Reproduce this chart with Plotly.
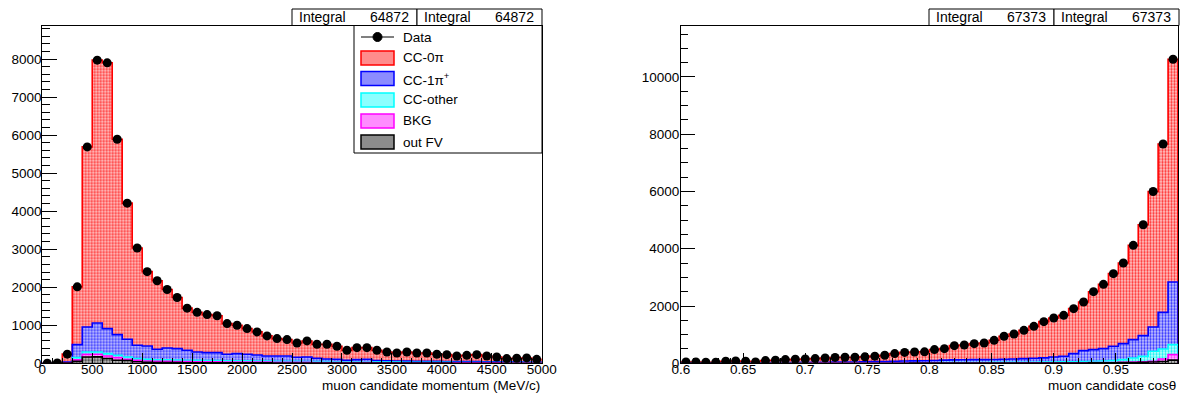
import numpy as np
import plotly.graph_objects as go

W, H = 1181, 398
FONT = "Liberation Sans"

# ---------------- data: left panel (muon momentum, 50 bins 0-5000 MeV/c) ----------------
mom_edges = np.linspace(0, 5000, 51)
data_L = [0, 10, 240, 2010, 5690, 7970, 7900, 5890, 4210, 3030,
          2410, 2170, 1940, 1730, 1450, 1340, 1280, 1250, 1044, 1000,
          912, 825, 720, 650, 623, 535, 588, 500, 500, 447,
          342, 412, 412, 342, 298, 272, 298, 272, 272, 237,
          228, 193, 210, 228, 193, 167, 123, 132, 141, 105]
cc0pi_L = [0, 10, 205, 1519, 4734, 6909, 6988, 5136, 3578, 2556,
           1954, 1802, 1536, 1344, 1108, 1042, 999, 970, 807, 746,
           675, 606, 527, 457, 433, 377, 421, 368, 386, 342,
           263, 316, 307, 272, 233, 212, 240, 217, 220, 187,
           180, 147, 165, 184, 151, 127, 83, 94, 105, 70]
cc1pi_L = [0, 0, 20, 341, 658, 763, 658, 544, 465, 351,
           354, 273, 312, 300, 262, 221, 207, 209, 169, 188,
           174, 159, 135, 138, 137, 108, 119, 87, 71, 64,
           40, 59, 70, 37, 33, 30, 30, 28, 26, 24,
           24, 23, 23, 23, 22, 20, 21, 20, 18, 17]
ccother_L = [0, 0, 5, 60, 63, 61, 61, 61, 62, 44,
             42, 40, 40, 38, 36, 35, 34, 33, 32, 31,
             30, 29, 28, 27, 26, 25, 24, 23, 22, 21,
             20, 19, 18, 17, 16, 15, 14, 14, 13, 13,
             12, 12, 11, 11, 10, 10, 10, 9, 9, 9]
bkg_L = [0, 0, 5, 40, 70, 67, 68, 69, 30, 39,
         35, 33, 32, 30, 28, 27, 26, 25, 24, 23,
         22, 21, 20, 19, 18, 17, 16, 15, 14, 14,
         13, 12, 12, 11, 11, 10, 10, 9, 9, 9,
         8, 8, 8, 7, 7, 7, 6, 6, 6, 6]
outfv_L = [0, 0, 5, 50, 165, 170, 125, 80, 75, 40,
           25, 22, 20, 18, 16, 15, 14, 13, 12, 12,
           11, 10, 10, 9, 9, 8, 8, 7, 7, 6,
           6, 6, 5, 5, 5, 5, 4, 4, 4, 4,
           4, 3, 3, 3, 3, 3, 3, 3, 3, 3]

# ---------------- data: right panel (muon cos theta, 50 bins 0.6-1.0) ----------------
cos_edges = np.linspace(0.6, 1.0, 51)
data_R = [45, 45, 35, 35, 70, 80, 70, 45, 95, 105,
          130, 140, 150, 165, 185, 205, 210, 210, 225, 250,
          280, 338, 380, 396, 400, 478, 512, 617, 640, 687,
          710, 803, 943, 1025, 1152, 1291, 1455, 1583, 1675, 1908,
          2141, 2501, 2757, 3130, 3502, 4120, 4838, 6000, 7660, 10620]
cc0pi_R = [35, 35, 27, 27, 55, 63, 55, 35, 75, 83,
           103, 111, 119, 131, 147, 163, 165, 162, 173, 192,
           216, 266, 300, 311, 310, 378, 402, 499, 515, 559,
           580, 668, 803, 875, 988, 1116, 1265, 1361, 1430, 1570,
           1698, 2023, 2245, 2536, 2815, 3293, 3872, 4732, 5880, 7782]
cc1pi_R = [6, 6, 4, 4, 10, 11, 9, 6, 12, 14,
           18, 20, 22, 23, 27, 29, 32, 34, 38, 42,
           48, 54, 62, 65, 69, 79, 87, 93, 99, 101,
           102, 104, 108, 117, 128, 136, 149, 178, 196, 283,
           383, 408, 432, 500, 558, 640, 721, 848, 1279, 2186]
ccother_R = [2, 2, 2, 2, 3, 3, 3, 2, 4, 4,
             5, 5, 5, 6, 6, 7, 7, 8, 8, 9,
             9, 10, 10, 11, 12, 12, 13, 14, 15, 16,
             17, 18, 19, 20, 22, 24, 26, 28, 32, 36,
             40, 47, 54, 65, 94, 144, 195, 350, 349, 349]
bkg_R = [1, 1, 1, 1, 1, 1, 1, 1, 2, 2,
         2, 2, 2, 2, 2, 3, 3, 3, 3, 3,
         3, 4, 4, 4, 4, 4, 5, 5, 5, 5,
         5, 6, 6, 6, 6, 7, 7, 7, 7, 8,
         8, 9, 10, 11, 13, 15, 15, 25, 87, 193]
outfv_R = [1, 1, 1, 1, 1, 2, 2, 1, 2, 2,
           2, 2, 2, 3, 3, 3, 3, 3, 3, 4,
           4, 4, 4, 5, 5, 5, 5, 6, 6, 6,
           6, 7, 7, 7, 8, 8, 8, 9, 10, 11,
           12, 14, 16, 18, 22, 28, 35, 45, 65, 110]

integral_L = "64872"
integral_R = "67373"

# component styles (bottom -> top of stack)
comp_names = ["out FV", "BKG", "CC-other", "CC-1π<sup>+</sup>", "CC-0π"]
line_cols = ["#000000", "#ff00ff", "#00ffff", "#0000ff", "#ff0000"]
fg_cols = ["#303030", "#ff30ff", "#10f0f0", "#3030ff", "#ff3030"]
bg_cols = ["#cfcfcf", "#ffcaff", "#caffff", "#cacaff", "#ffcaca"]
swatch_cols = ["#8c8c8c", "#ff8cff", "#8cffff", "#8c8cff", "#ff8c8c"]

fig = go.Figure()


def add_panel(edges, comps, data, xa, ya):
    edges = np.asarray(edges)
    centers = 0.5 * (edges[:-1] + edges[1:])
    width = edges[1] - edges[0]
    for i, vals in enumerate(comps):
        fig.add_trace(go.Bar(
            x=centers, y=vals, width=width, xaxis=xa, yaxis=ya,
            marker=dict(color=bg_cols[i], line=dict(width=0),
                        pattern=dict(shape=".", fgcolor=fg_cols[i], bgcolor=bg_cols[i],
                                     size=3, solidity=0.45, fillmode="replace")),
            showlegend=False, hoverinfo="skip"))
    cum = np.cumsum(np.array(comps, dtype=float), axis=0)
    xs = np.r_[edges[0], edges, edges[-1]]
    for i in range(len(comps) - 1, -1, -1):
        ys = np.r_[0, cum[i], cum[i][-1], 0]
        fig.add_trace(go.Scatter(
            x=xs, y=ys, mode="lines", line=dict(color=line_cols[i], width=1.6, shape="hv"),
            xaxis=xa, yaxis=ya, showlegend=False, hoverinfo="skip"))
    d = np.asarray(data, dtype=float)
    fig.add_trace(go.Scatter(
        x=centers, y=d, mode="markers", xaxis=xa, yaxis=ya,
        marker=dict(color="black", size=9),
        error_y=dict(type="data", array=np.sqrt(d), color="black", thickness=1, width=0),
        showlegend=False))


add_panel(mom_edges, [outfv_L, bkg_L, ccother_L, cc1pi_L, cc0pi_L], data_L, "x", "y")
add_panel(cos_edges, [outfv_R, bkg_R, ccother_R, cc1pi_R, cc0pi_R], data_R, "x2", "y2")


def px(x):
    return x / W


def py(y):
    return 1 - y / H


ytop, ybot = 25.7, 363.3
tickfont = dict(family=FONT, size=13.5, color="black")
axcommon = dict(showline=True, linecolor="black", linewidth=1, mirror=True,
                showgrid=False, zeroline=False, ticks="inside", tickcolor="black",
                tickwidth=1, tickfont=tickfont, automargin=False)

fig.update_layout(
    width=W, height=H, margin=dict(l=0, r=0, t=0, b=0, autoexpand=False),
    paper_bgcolor="white", plot_bgcolor="white",
    barmode="stack", bargap=0, showlegend=False,
    font=dict(family=FONT, size=13.5, color="black"),
    xaxis=dict(domain=[px(42.3), px(541.7)], range=[0, 5000], tick0=0, dtick=500, ticklen=10,
               ticklabelstandoff=-7,
               minor=dict(ticks="inside", ticklen=5, dtick=100, tickcolor="black"),
               anchor="y", **axcommon),
    yaxis=dict(domain=[py(ybot), py(ytop)], range=[0, 8876], tick0=0, dtick=1000, ticklen=15,
               tickformat="d", ticklabelstandoff=-3,
               minor=dict(ticks="inside", ticklen=7.5, dtick=200, tickcolor="black"),
               anchor="x", **axcommon),
    xaxis2=dict(domain=[px(681), px(1178)], range=[0.6, 1.0], tick0=0.6, dtick=0.05, ticklen=10,
                ticklabelstandoff=-7,
                minor=dict(ticks="inside", ticklen=5, dtick=0.01, tickcolor="black"),
                anchor="y2", **axcommon),
    yaxis2=dict(domain=[py(ybot), py(ytop)], range=[0, 11790], tick0=0, dtick=2000, ticklen=14,
                tickformat="d", ticklabelstandoff=-2,
                minor=dict(ticks="inside", ticklen=7, dtick=500, tickcolor="black"),
                anchor="x2", **axcommon),
)

shapes = []
annots = []
txt = dict(family=FONT, size=13.5, color="black")

# stat boxes
for (x0, x1, val) in [(292, 417, integral_L), (417, 542, integral_L),
                      (929, 1054, integral_R), (1054, 1179, integral_R)]:
    shapes.append(dict(type="rect", xref="paper", yref="paper", x0=px(x0), x1=px(x1),
                       y0=py(25.5), y1=py(9), line=dict(color="black", width=1), fillcolor="white"))
    annots.append(dict(xref="paper", yref="paper", x=px(x0 + 5), y=py(17), text="Integral",
                       showarrow=False, xanchor="left", yanchor="middle", font=dict(txt, size=14)))
    annots.append(dict(xref="paper", yref="paper", x=px(x1 - 6), y=py(17), text=val,
                       showarrow=False, xanchor="right", yanchor="middle", font=dict(txt, size=14)))

# legend box
shapes.append(dict(type="rect", xref="paper", yref="paper", x0=px(354), x1=px(542),
                   y0=py(153), y1=py(25.5), line=dict(color="black", width=1), fillcolor="white"))
# data entry
shapes.append(dict(type="line", xref="paper", yref="paper", x0=px(361), x1=px(394),
                   y0=py(37), y1=py(37), line=dict(color="black", width=1)))
shapes.append(dict(type="circle", xref="paper", yref="paper", x0=px(373), x1=px(382),
                   y0=py(41.5), y1=py(32.5), line=dict(color="black", width=1), fillcolor="black"))
annots.append(dict(xref="paper", yref="paper", x=px(401), y=py(37), text="Data",
                   showarrow=False, xanchor="left", yanchor="middle", font=txt))
rows = [58, 78.5, 100, 121, 142]
for r, i in zip(rows, [4, 3, 2, 1, 0]):
    shapes.append(dict(type="rect", xref="paper", yref="paper", x0=px(361), x1=px(394),
                       y0=py(r + 7), y1=py(r - 7), line=dict(color=line_cols[i], width=1.5),
                       fillcolor=swatch_cols[i]))
    annots.append(dict(xref="paper", yref="paper", x=px(401), y=py(r), text=comp_names[i],
                       showarrow=False, xanchor="left", yanchor="middle", font=txt))

# axis titles
annots.append(dict(xref="paper", yref="paper", x=px(542), y=py(385),
                   text="muon candidate momentum (MeV/c)", showarrow=False,
                   xanchor="right", yanchor="middle", font=txt))
annots.append(dict(xref="paper", yref="paper", x=px(1178), y=py(385),
                   text="muon candidate cosθ", showarrow=False,
                   xanchor="right", yanchor="middle", font=txt))

fig.update_layout(shapes=shapes, annotations=annots)
fig.write_html("out.html")
